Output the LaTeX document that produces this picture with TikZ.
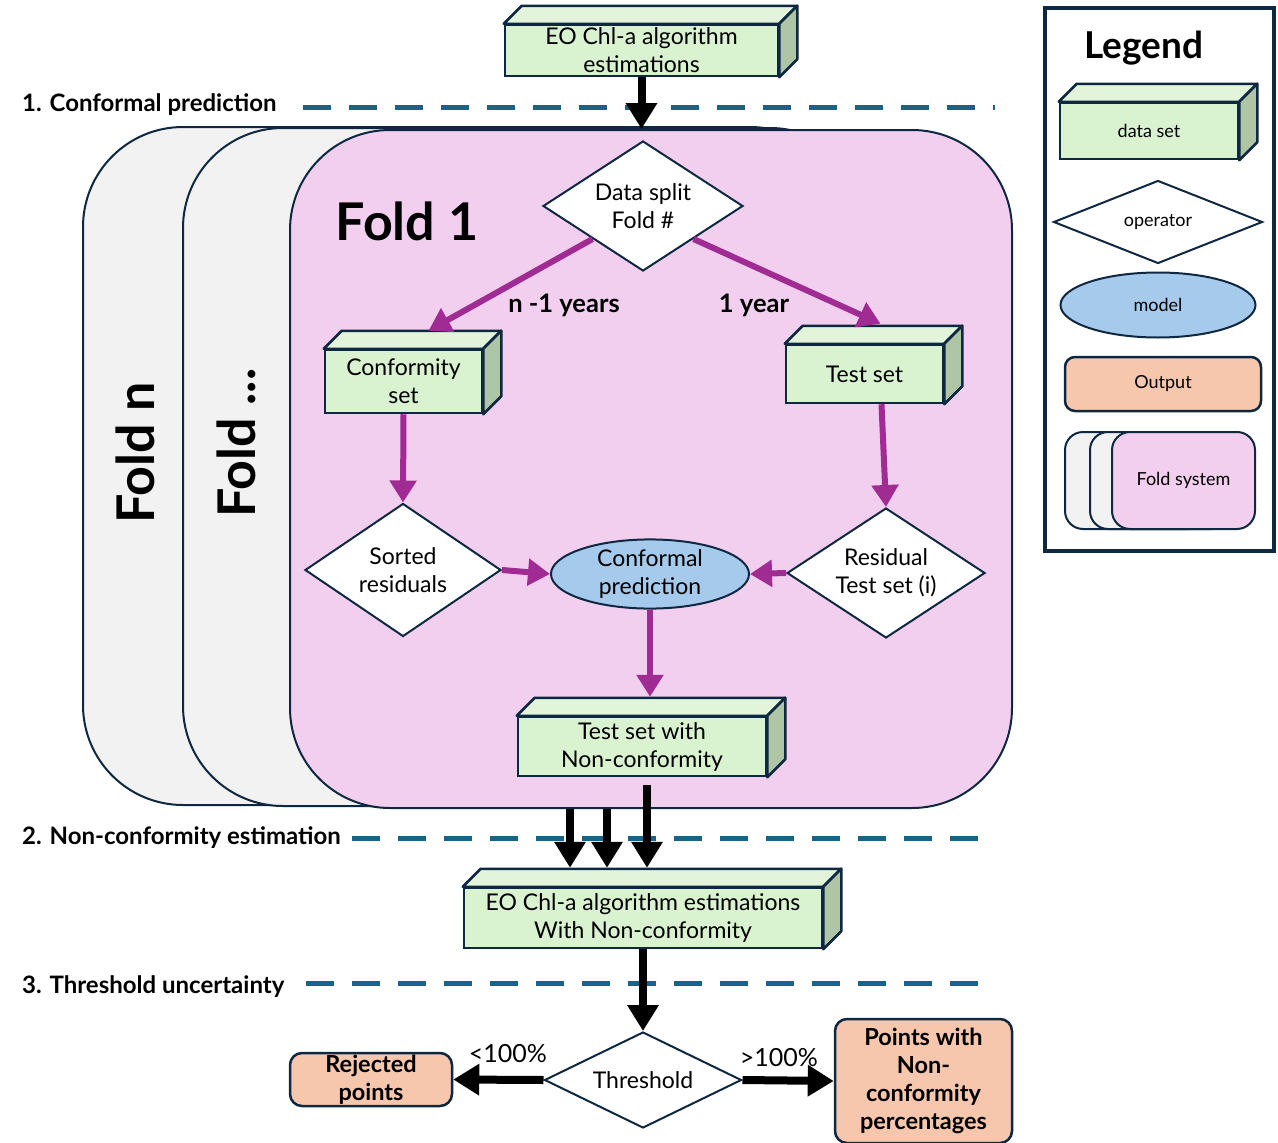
\documentclass[tikz,border=0pt]{standalone}
\usepackage{fontspec}
\setmainfont{Lato}
\usetikzlibrary{arrows.meta,calc,positioning,shapes.geometric}

\definecolor{navy}{HTML}{0E2841}
\definecolor{setgreen}{HTML}{D9F2D0}
\definecolor{topgreen}{HTML}{E2F5DB}
\definecolor{sidegreen}{HTML}{AEC5A6}
\definecolor{foldpink}{HTML}{F2CEEF}
\definecolor{foldgrey}{HTML}{F2F2F2}
\definecolor{modelblue}{HTML}{A6CAEC}
\definecolor{outpeach}{HTML}{F6C6AD}
\definecolor{flowpurple}{HTML}{A02B93}
\definecolor{dashblue}{HTML}{1A6288}

% top and side faces of a data set box
\newcommand{\boxdepth}[1]{%
  \filldraw[facetop] (#1.north west) -- ++(18,-18) -- ($(#1.north east)+(18,-18)$) -- (#1.north east) -- cycle;
  \filldraw[faceside] (#1.north east) -- ++(18,-18) -- ($(#1.south east)+(18,-18)$) -- (#1.south east) -- cycle;}

\begin{document}
\begin{tikzpicture}[x=1pt,y=-1pt,
  dataset/.style={draw=navy,fill=setgreen,line width=2.5pt,align=center,inner sep=0pt,font=\fontsize{23}{28}\selectfont},
  facetop/.style={draw=navy,fill=topgreen,line width=2.5pt,line join=round},
  faceside/.style={draw=navy,fill=sidegreen,line width=2.5pt,line join=round},
  operator/.style={diamond,draw=navy,fill=white,line width=2pt,align=center,inner sep=-15pt,font=\fontsize{23}{28}\selectfont},
  model/.style={ellipse,draw=navy,fill=modelblue,line width=2pt,align=center,inner sep=0pt,font=\fontsize{23}{28}\selectfont},
  output/.style={rectangle,rounded corners=12pt,draw=navy,fill=outpeach,line width=2.5pt,align=center,inner sep=0pt,font=\bfseries\fontsize{23.5}{28}\selectfont},
  foldback/.style={rectangle,rounded corners=100pt,draw=navy,fill=foldgrey,line width=2pt},
  foldfront/.style={rectangle,rounded corners=100pt,draw=navy,fill=foldpink,line width=2pt},
  foldname/.style={font=\bfseries\fontsize{52}{60}\selectfont,inner sep=0pt},
  phase/.style={font=\bfseries\fontsize{24}{28}\selectfont,inner sep=0pt,anchor=west},
  phaseline/.style={dashblue,line width=5pt,dash pattern=on 28pt off 18pt},
  split/.style={font=\bfseries\fontsize{25.5}{28}\selectfont,inner sep=0pt},
  pct/.style={font=\fontsize{25}{28}\selectfont,inner sep=0pt},
  flow/.style={draw=flowpurple,line width=6pt,-{Triangle[width=26pt,length=22pt]}},
  main/.style={draw=black,line width=8pt,-{Triangle[width=30pt,length=26pt]}},
  keytext/.style={font=\fontsize{18}{22}\selectfont}]
\useasboundingbox (0,0) rectangle (1278,1143);

% legend
\node[draw=navy,line width=4.5pt,minimum width=229pt,minimum height=543pt] (legend) at (1159.5,279.5) {};
\node[font=\bfseries\fontsize{37}{40}\selectfont,inner sep=0pt] (legendtitle) at (1144,48) {Legend};
\node[dataset,keytext,minimum width=178pt,minimum height=56pt] (keyset) at (1149,131) {data set};
\boxdepth{keyset}
\node[operator,keytext,minimum width=209pt,minimum height=83pt] (keyop) at (1158,222) {operator};
\node[model,keytext,minimum width=195pt,minimum height=65pt] (keymodel) at (1158,305) {model};
\node[output,keytext,rounded corners=10pt,font=\fontsize{18}{22}\selectfont,minimum width=196pt,minimum height=54pt] (keyout) at (1163,384) {Output};
\node[foldback,rounded corners=18pt,minimum width=140pt,minimum height=97pt] (keyfoldb) at (1135,480.5) {};
\node[foldback,rounded corners=18pt,minimum width=140pt,minimum height=97pt] (keyfolda) at (1160,480.5) {};
\node[foldfront,keytext,rounded corners=18pt,minimum width=143pt,minimum height=97pt] (keyfold) at (1183.5,480.5) {Fold system};

% phases
\node[phase] (phase1) at (22,105) {1. Conformal prediction};
\draw[phaseline] (303,107) -- (995,107);
\node[phase] (phase2) at (22,838) {2. Non-conformity estimation};
\draw[phaseline] (352,838) -- (990,838);
\node[phase] (phase3) at (22,987) {3. Threshold uncertainty};
\draw[phaseline] (306,983) -- (995,983);

% folds
\node[foldback,minimum width=767pt,minimum height=678pt] (foldn) at (466.5,466) {};
\node[foldname,rotate=90] (foldnname) at (135,453) {Fold n};
\node[foldback,minimum width=687pt,minimum height=678pt] (folddots) at (526.5,467) {};
\node[foldname,rotate=90] (folddotsname) at (236,443) {Fold ...};
\node[foldfront,minimum width=722pt,minimum height=678pt] (fold1) at (651,469) {};
\node[foldname] (fold1name) at (407,221) {Fold 1};

% data sets and operators
\node[dataset,minimum width=273pt,minimum height=51pt] (eo) at (641.5,50.5) {EO Chl-a algorithm\\estimations};
\boxdepth{eo}
\node[operator,minimum width=200pt,minimum height=130pt] (split) at (643,206) {Data split\\Fold \#};
\node[dataset,minimum width=157pt,minimum height=63pt] (confset) at (403.5,381.5) {Conformity\\set};
\boxdepth{confset}
\node[dataset,minimum width=157pt,minimum height=58pt] (testset) at (864.5,374) {Test set};
\boxdepth{testset}
\node[operator,minimum width=196pt,minimum height=133pt] (sorted) at (403,570) {Sorted\\residuals};
\node[model,minimum width=198pt,minimum height=68pt] (conformal) at (650,574) {Conformal\\prediction};
\node[operator,minimum width=198pt,minimum height=130pt] (resid) at (886,573) {Residual\\Test set (i)};
\node[dataset,minimum width=248pt,minimum height=59pt] (testnc) at (642,746.5) {Test set with\\Non-conformity};
\boxdepth{testnc}
\node[dataset,minimum width=358pt,minimum height=60pt] (eonc) at (643,918) {EO Chl-a algorithm estimations\\With Non-conformity};
\boxdepth{eonc}
\node[operator,minimum width=197pt,minimum height=96pt] (threshold) at (643,1080) {Threshold};
\node[output,minimum width=162pt,minimum height=53pt] (rejected) at (371,1079.5) {Rejected\\points};
\node[output,minimum width=177pt,minimum height=124pt] (points) at (923.5,1081) {Points with\\Non-\\conformity\\percentages};

% connectors
\draw[main] (eo.south) -- (eo.south |- fold1.north);
\draw[flow] (split.south west) -- ($(confset.north)+(25,-18)$);
\draw[flow] (split.south east) -- ($(testset.north)+(16,-20)$);
\node[split] (nyears) at (564,305) {n -1 years};
\node[split] (oneyear) at (754,305) {1 year};
\draw[flow] (confset.south) -- (sorted.north);
\draw[flow] ([xshift=17pt]testset.south) -- (resid.north);
\draw[flow] (sorted.east) -- (conformal.west);
\draw[flow] (resid.west) -- (conformal.east);
\draw[flow] (conformal.south) -- ($(testnc.north)+(8,-19)$);

\coordinate (nctop) at ($(eonc.north)+(0,-19)$);
\foreach \dx in {-81,-44}
  \draw[main] ([xshift=\dx pt]fold1.south) -- ([xshift=\dx pt]fold1.south |- nctop);
\draw[main] ([shift={(5,8)}]testnc.south) -- ([xshift=5pt]testnc.south |- nctop);

\draw[main] (eonc.south) -- (threshold.north);
\draw[main] (threshold.west) -- (rejected.east);
\draw[main] (threshold.east) -- (points.west);
\node[pct] (less) at (508,1054) {<100\%};
\node[pct] (more) at (779,1058) {>100\%};
\end{tikzpicture}
\end{document}
